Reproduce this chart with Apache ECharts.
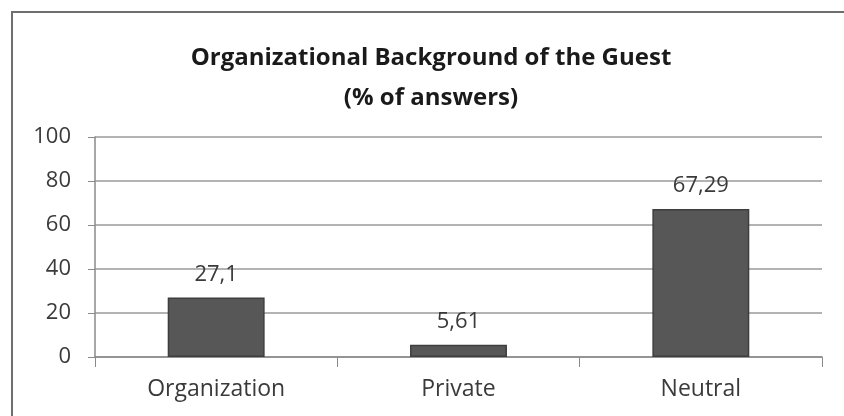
<!DOCTYPE html>
<html>
<head>
<meta charset="utf-8">
<style>
  html, body { margin: 0; padding: 0; background: #ffffff; }
  #chart { width: 844px; height: 416px; }
</style>
<script src="https://cdn.jsdelivr.net/npm/echarts@6/dist/echarts.min.js"></script>
</head>
<body>
<div id="chart"></div>
<script>
// Survey results: organizational background of the guest
const titleLines = ['Organizational Background of the Guest', '(% of answers)'];
const categories = ['Organization', 'Private', 'Neutral'];
const shares = [27.1, 5.61, 67.29];
const yMin = 0;
const yMax = 100;
const yStep = 20;

const FONT = '"Open Sans", "DejaVu Sans", sans-serif';
const TEXT = '#3a3a3a';

const chart = echarts.init(document.getElementById('chart'), null, { renderer: 'canvas' });

chart.setOption({
  backgroundColor: '#ffffff',
  animation: false,
  title: {
    text: titleLines.join('\n'),
    left: 426,
    top: 33,
    textAlign: 'center',
    textStyle: {
      fontFamily: FONT,
      fontSize: 24,
      fontWeight: 'bold',
      color: '#1a1a1a',
      lineHeight: 40
    }
  },
  graphic: [
    // chart frame: left and top edges
    {
      type: 'polyline',
      shape: { points: [[12, 416], [12, 12], [844, 12]] },
      style: { stroke: '#6e6e6e', lineWidth: 2, fill: null }
    }
  ],
  grid: { left: 95, right: 22, top: 137, bottom: 59 },
  xAxis: {
    type: 'category',
    data: categories,
    axisLine: { show: true, lineStyle: { color: '#8a8a8a', width: 1.5 } },
    axisTick: { show: true, length: 10, alignWithLabel: false, lineStyle: { color: '#8a8a8a' } },
    axisLabel: { fontFamily: FONT, fontSize: 23, color: TEXT, margin: 21 }
  },
  yAxis: {
    type: 'value',
    min: yMin,
    max: yMax,
    interval: yStep,
    axisLine: { show: true, lineStyle: { color: '#8a8a8a', width: 1.5 } },
    axisTick: { show: true, length: 7, lineStyle: { color: '#8a8a8a' } },
    axisLabel: { fontFamily: FONT, fontSize: 22, color: TEXT, margin: 24 },
    splitLine: { show: true, lineStyle: { color: '#9a9a9a', width: 1.5 } }
  },
  series: [
    {
      type: 'bar',
      data: shares,
      barWidth: '40%',
      itemStyle: { color: '#575757', borderColor: '#3e3e3e', borderWidth: 1.5 },
      label: {
        show: true,
        position: 'top',
        distance: 12,
        fontFamily: FONT,
        fontSize: 22,
        color: TEXT,
        formatter: p => String(p.value).replace('.', ',')
      }
    }
  ]
});
</script>
</body>
</html>
